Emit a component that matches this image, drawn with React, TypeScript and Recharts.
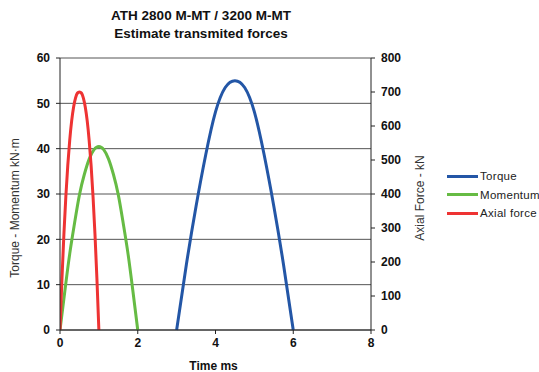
import React from 'react';
import { LineChart, Line, XAxis, YAxis, CartesianGrid } from 'recharts';

const titleLines = ['ATH 2800 M-MT / 3200 M-MT', 'Estimate transmited forces'];
const xTicks = [0, 2, 4, 6, 8];
const leftTicks = [0, 10, 20, 30, 40, 50, 60];
const rightTicks = [0, 100, 200, 300, 400, 500, 600, 700, 800];

const torqueTime = [3, 3.25, 3.5, 3.75, 4, 4.25, 4.5, 4.75, 5, 5.25, 5.5, 5.75, 6];
const torqueValue = [0, 14.4, 27.3, 38.7, 48.1, 53.5, 55, 53.5, 48.1, 38.7, 27.3, 14.4, 0];

const momentumTime = [0, 0.125, 0.25, 0.375, 0.5, 0.625, 0.75, 0.875, 1, 1.125, 1.25, 1.375, 1.5, 1.625, 1.75, 1.875, 2];
const momentumValue = [0, 8.6, 16.8, 23.6, 29.8, 34.3, 37.7, 39.8, 40.5, 39.8, 37.7, 34.3, 29.8, 23.6, 16.8, 8.6, 0];

const axialTime = [0, 0.05, 0.1, 0.15, 0.2, 0.25, 0.3, 0.35, 0.4, 0.45, 0.5, 0.55, 0.6, 0.65, 0.7, 0.75, 0.8, 0.85, 0.9, 0.95, 1];
const axialValue = [0, 150, 281, 392, 484, 558, 615, 656, 683, 697, 700, 697, 683, 656, 615, 558, 484, 392, 281, 150, 0];

const seriesNames = ['Torque', 'Momentum', 'Axial force'];
const seriesColors = ['#2356a6', '#66bb44', '#ee3333'];

const FONT = '"Liberation Sans", Arial, sans-serif';
const tickStyle = { fill: '#111', fontSize: 12, fontWeight: 'bold', fontFamily: FONT };

const zip = (ts: number[], vs: number[]) => ts.map((t, i) => ({ t, v: vs[i] }));

export default function App() {
  const torqueData = zip(torqueTime, torqueValue);
  const momentumData = zip(momentumTime, momentumValue);
  const axialData = zip(axialTime, axialValue);

  return (
    <div style={{ position: 'absolute', left: 0, top: 0, width: 539, height: 372, background: '#fff', fontFamily: FONT }}>
      <LineChart width={539} height={372} margin={{ top: 58, right: 118, bottom: 0, left: 0 }}>
        <CartesianGrid yAxisId="left" vertical={false} stroke="#555" strokeWidth={1} />
        <XAxis
          dataKey="t"
          type="number"
          domain={[0, 8]}
          ticks={xTicks}
          height={42}
          tickSize={4}
          tickMargin={4}
          axisLine={{ stroke: '#222' }}
          tickLine={{ stroke: '#222' }}
          tick={tickStyle}
          allowDataOverflow
          label={{
            content: (p: any) => {
              const vb = p.viewBox;
              return (
                <text x={vb.x + vb.width / 2 - 2} y={vb.y + 36} textAnchor="middle" dominantBaseline="central"
                  style={{ fontSize: 12, fontWeight: 'bold', fontFamily: FONT, fill: '#111' }}>Time ms</text>
              );
            },
          }}
        />
        <YAxis
          yAxisId="left"
          domain={[0, 60]}
          ticks={leftTicks}
          width={60}
          tickSize={4}
          tickMargin={6}
          axisLine={{ stroke: '#222' }}
          tickLine={{ stroke: '#222' }}
          tick={tickStyle}
          label={{
            content: (p: any) => {
              const vb = p.viewBox;
              const x = vb.x + 15;
              const y = vb.y + vb.height / 2 + 14;
              return (
                <text x={x} y={y} transform={`rotate(-90, ${x}, ${y})`} textAnchor="middle" dominantBaseline="central"
                  style={{ fontSize: 12, fontFamily: FONT, fill: '#333' }}>Torque - Momentum kN·m</text>
              );
            },
          }}
        />
        <YAxis
          yAxisId="right"
          orientation="right"
          domain={[0, 800]}
          ticks={rightTicks}
          width={50}
          tickSize={4}
          tickMargin={6}
          axisLine={{ stroke: '#222' }}
          tickLine={{ stroke: '#222' }}
          tick={tickStyle}
          label={{
            content: (p: any) => {
              const vb = p.viewBox;
              const x = vb.x + 49;
              const y = vb.y + vb.height / 2 + 4;
              return (
                <text x={x} y={y} transform={`rotate(-90, ${x}, ${y})`} textAnchor="middle" dominantBaseline="central"
                  style={{ fontSize: 12, fontFamily: FONT, fill: '#333' }}>Axial Force - kN</text>
              );
            },
          }}
        />
        <Line data={torqueData} dataKey="v" yAxisId="left" type="natural" stroke={seriesColors[0]} strokeWidth={3} dot={false} isAnimationActive={false} />
        <Line data={momentumData} dataKey="v" yAxisId="left" type="natural" stroke={seriesColors[1]} strokeWidth={3} dot={false} isAnimationActive={false} />
        <Line data={axialData} dataKey="v" yAxisId="right" type="natural" stroke={seriesColors[2]} strokeWidth={3} dot={false} isAnimationActive={false} />
      </LineChart>
      <div style={{ position: 'absolute', left: 51, top: 7, width: 300, textAlign: 'center', fontWeight: 'bold', fontSize: 13.5, lineHeight: '18px', color: '#111' }}>
        <div>{titleLines[0]}</div>
        <div>{titleLines[1]}</div>
      </div>
      <div style={{ position: 'absolute', left: 447, top: 167 }}>
        {seriesNames.map((n, i) => (
          <div key={n} style={{ display: 'flex', alignItems: 'center', height: 18.5 }}>
            <div style={{ width: 31, height: 3, background: seriesColors[i] }} />
            <span style={{ fontSize: 11.5, color: '#222', marginLeft: 2, letterSpacing: 0.3 }}>{n}</span>
          </div>
        ))}
      </div>
    </div>
  );
}
